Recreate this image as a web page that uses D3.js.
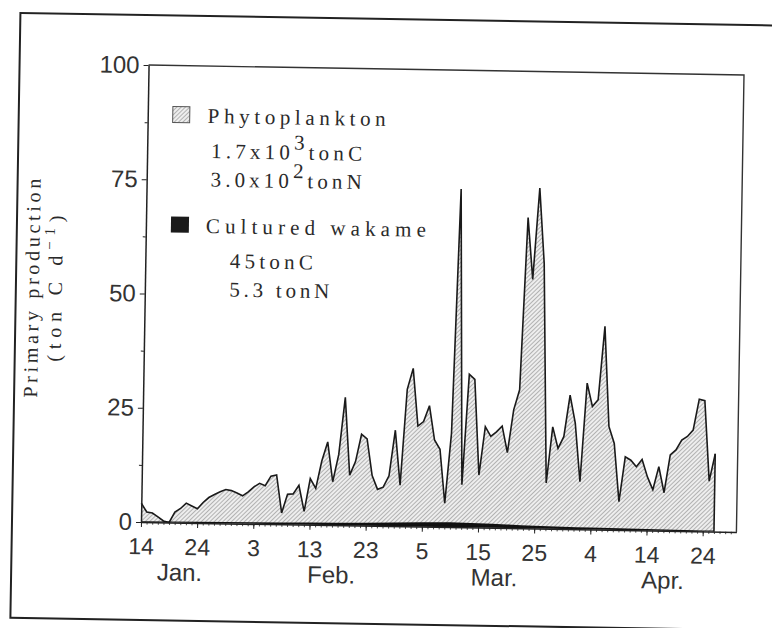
<!DOCTYPE html>
<html>
<head>
<meta charset="utf-8">
<script src="https://cdn.jsdelivr.net/npm/d3@7"></script>
<style>
  body { margin: 0; background: #fff; }
  svg { display: block; }
  .axis text { font-family: "Liberation Sans", Arial, sans-serif; fill: #333; }
  .axis line, .axis path { stroke: #222; }
  .serif { font-family: "Liberation Serif", "Times New Roman", serif; fill: #2a2a2a; }
</style>
</head>
<body>
<svg width="772" height="628"></svg>
<script>
// daily phytoplankton production from 14 Jan (ton C d-1)
var phytoStart = "1991-01-14";
var phyto = [4.1, 2.2, 2.0, 1.2, 0.3, 0.0, 2.3, 3.1, 4.3, 3.7,
             3.1, 4.5, 5.6, 6.3, 6.9, 7.4, 7.2, 6.7, 6.1, 7.0,
             8.1, 8.9, 8.4, 10.5, 10.8, 2.5, 6.6, 6.7, 8.6, 2.9,
             10.1, 8.0, 14.0, 18.2, 9.5, 15.5, 28.0, 11.0, 14.0, 20.0,
             19.0, 11.0, 8.0, 8.5, 11.0, 21.0, 9.0, 30.0, 34.6, 22.0,
             23.0, 26.5, 19.0, 17.0, 5.2, 20.5, 74.0, 9.3, 33.5, 32.4,
             11.5, 22.1, 20.0, 21.0, 22.3, 16.5, 25.9, 30.3, 68.0, 54.5,
             74.5, 58.0, 10.0, 22.3, 17.6, 20.2, 29.3, 23.2, 10.4, 32.0,
             26.9, 28.4, 44.5, 22.6, 18.9, 6.2, 16.0, 15.3, 13.9, 15.5,
             11.7, 8.9, 14.0, 8.3, 16.6, 17.7, 19.9, 20.7, 22.1, 28.9,
             28.6, 11.0, 17.0];

// cultured wakame production (ton C d-1)
var wakameDates = ["01-14", "01-24", "02-03", "02-13", "02-23", "03-05", "03-10", "03-15",
                   "03-20", "03-25", "03-30", "04-04", "04-14", "04-24", "04-26"];
var wakame = [0.15, 0.25, 0.35, 0.5, 0.65, 0.95, 1.05, 0.95, 0.8, 0.6, 0.5, 0.4, 0.3, 0.2, 0.2];

var tickDates = ["01-14", "01-24", "02-03", "02-13", "02-23", "03-05",
                 "03-15", "03-25", "04-04", "04-14", "04-24"];
var months = ["Jan.", "Feb.", "Mar.", "Apr."];
var monthDates = ["01-21", "02-17", "03-18", "04-17"];
var yTicks = [0, 25, 50, 75, 100];
var yMinor = [12.5, 37.5, 62.5, 87.5];

var phytoTotals = [["1.7x10", "3", "tonC"], ["3.0x10", "2", "tonN"]];
var wakameTotals = ["45tonC", "5.3 tonN"];

var year = "1991-";
var parse = d3.timeParse("%Y-%m-%d");
var day = function(s) { return parse(year + s); };

var svg = d3.select("svg");

var defs = svg.append("defs");
var hatch = defs.append("pattern")
    .attr("id", "hatch")
    .attr("patternUnits", "userSpaceOnUse")
    .attr("width", 3).attr("height", 3)
    .attr("patternTransform", "rotate(45)");
hatch.append("rect").attr("width", 3).attr("height", 3).attr("fill", "#eeeeee");
hatch.append("line")
    .attr("x1", 0.5).attr("y1", 0).attr("x2", 0.5).attr("y2", 3)
    .attr("stroke", "#a2a2a2").attr("stroke-width", 0.8);

// the whole figure sits at a slight tilt
var g = svg.append("g").attr("transform", "rotate(0.95,141,522)");

var x = d3.scaleTime()
    .domain([day("01-14"), day("04-30")])
    .range([141, 736.5]);
var y = d3.scaleLinear().domain([0, 100]).range([522, 65]);

// outer frame
g.append("rect")
    .attr("x", 12).attr("y", 15)
    .attr("width", 800).attr("height", 605)
    .attr("fill", "none").attr("stroke", "#222").attr("stroke-width", 2);

var phytoData = phyto.map(function(v, i) {
  return {date: d3.timeDay.offset(parse(phytoStart), i), value: v};
});
var wakameData = wakameDates.map(function(d, i) {
  return {date: day(d), value: wakame[i]};
});

var area = d3.area()
    .x(function(d) { return x(d.date); })
    .y0(y(0))
    .y1(function(d) { return y(d.value); });
var line = d3.line()
    .x(function(d) { return x(d.date); })
    .y(function(d) { return y(d.value); });

g.append("path")
    .attr("d", area(phytoData))
    .attr("fill", "url(#hatch)");

g.append("path")
    .attr("d", line(phytoData))
    .attr("fill", "none")
    .attr("stroke", "#1a1a1a")
    .attr("stroke-width", 1.6)
    .attr("stroke-linejoin", "miter");

var last = phytoData[phytoData.length - 1];
g.append("line")
    .attr("x1", x(last.date)).attr("x2", x(last.date))
    .attr("y1", y(last.value)).attr("y2", y(0))
    .attr("stroke", "#1a1a1a").attr("stroke-width", 1.6);

g.append("path")
    .attr("d", area.curve(d3.curveMonotoneX)(wakameData))
    .attr("fill", "#111");

// plot box: top and right sides
var xEnd = x.range()[1];
g.append("path")
    .attr("d", "M" + x.range()[0] + "," + y(100) + "H" + xEnd + "V" + y(0))
    .attr("fill", "none").attr("stroke", "#333").attr("stroke-width", 1.4);

// x axis: daily minor ticks, 10-day major ticks
g.append("g")
    .attr("class", "axis")
    .attr("transform", "translate(0," + y(0) + ")")
    .call(d3.axisBottom(x)
        .tickValues(d3.timeDay.range(x.domain()[0], x.domain()[1]))
        .tickSize(2.5).tickFormat(""))
    .call(function(a) { a.select(".domain").remove(); })
    .selectAll("line").attr("stroke-width", 0.8);

var xAxis = g.append("g")
    .attr("class", "axis")
    .attr("transform", "translate(0," + y(0) + ")")
    .call(d3.axisBottom(x)
        .tickValues(tickDates.map(day))
        .tickFormat(d3.timeFormat("%-d"))
        .tickSize(5).tickSizeOuter(0).tickPadding(11));
xAxis.select(".domain").attr("stroke-width", 1.5);
xAxis.selectAll("text").attr("font-size", 23);

g.selectAll(".month")
    .data(months)
    .enter().append("text")
    .attr("class", "axis month")
    .attr("x", function(d, i) { return x(day(monthDates[i])); })
    .attr("y", 580)
    .attr("text-anchor", "middle")
    .attr("font-family", "Liberation Sans, Arial, sans-serif")
    .attr("font-size", 24)
    .attr("fill", "#333")
    .text(function(d) { return d; });

// y axis
var yAxis = g.append("g")
    .attr("class", "axis")
    .attr("transform", "translate(" + x.range()[0] + ",0)")
    .call(d3.axisLeft(y).tickValues(yTicks).tickSize(5).tickSizeOuter(0).tickPadding(4));
yAxis.select(".domain").attr("stroke-width", 1.5);
yAxis.selectAll("text").attr("font-size", 24).attr("fill", "#3a3a3a");

g.append("g")
    .attr("class", "axis")
    .attr("transform", "translate(" + x.range()[0] + ",0)")
    .call(d3.axisLeft(y).tickValues(yMinor).tickSize(3).tickFormat(""))
    .call(function(a) { a.select(".domain").remove(); })
    .selectAll("line").attr("stroke", "#777");

// y title
g.append("text")
    .attr("class", "serif")
    .attr("transform", "translate(35,290) rotate(-90)")
    .attr("text-anchor", "middle")
    .attr("font-size", 20)
    .attr("fill", "#555")
    .attr("textLength", 219).attr("lengthAdjust", "spacing")
    .text("Primary production");

var unit = g.append("text")
    .attr("class", "serif")
    .attr("transform", "translate(58,290) rotate(-90)")
    .attr("text-anchor", "middle")
    .attr("font-size", 20)
    .attr("fill", "#555")
    .attr("textLength", 146).attr("lengthAdjust", "spacing");
unit.append("tspan").text("(ton C d");
unit.append("tspan").attr("dy", -8).attr("font-size", 15).text("\u22121");
unit.append("tspan").attr("dy", 8).text(")");

// legend
g.append("rect")
    .attr("x", 166).attr("y", 106).attr("width", 17).attr("height", 16)
    .attr("fill", "url(#hatch)").attr("stroke", "#555").attr("stroke-width", 1);
g.append("text").attr("class", "serif")
    .attr("x", 201).attr("y", 122)
    .attr("font-size", 21)
    .attr("textLength", 178).attr("lengthAdjust", "spacing")
    .text("Phytoplankton");

var totalsY = [157, 185.5];
phytoTotals.forEach(function(t, i) {
  var tx = g.append("text").attr("class", "serif")
      .attr("x", 205).attr("y", totalsY[i])
      .attr("font-size", 21)
      .attr("textLength", 151).attr("lengthAdjust", "spacing");
  tx.append("tspan").text(t[0]);
  tx.append("tspan").attr("dy", -10).text(t[1]);
  tx.append("tspan").attr("dy", 10).text(t[2]);
});

g.append("rect")
    .attr("x", 166).attr("y", 216).attr("width", 18).attr("height", 16)
    .attr("fill", "#1a1a1a");
g.append("text").attr("class", "serif")
    .attr("x", 201).attr("y", 232)
    .attr("font-size", 21)
    .attr("textLength", 220).attr("lengthAdjust", "spacing")
    .text("Cultured wakame");

var wakY = [266.7, 295.2], wakLen = [83, 100];
wakameTotals.forEach(function(t, i) {
  g.append("text").attr("class", "serif")
      .attr("x", 225.5).attr("y", wakY[i])
      .attr("font-size", 21)
      .attr("textLength", wakLen[i]).attr("lengthAdjust", "spacing")
      .text(t);
});
</script>
</body>
</html>
